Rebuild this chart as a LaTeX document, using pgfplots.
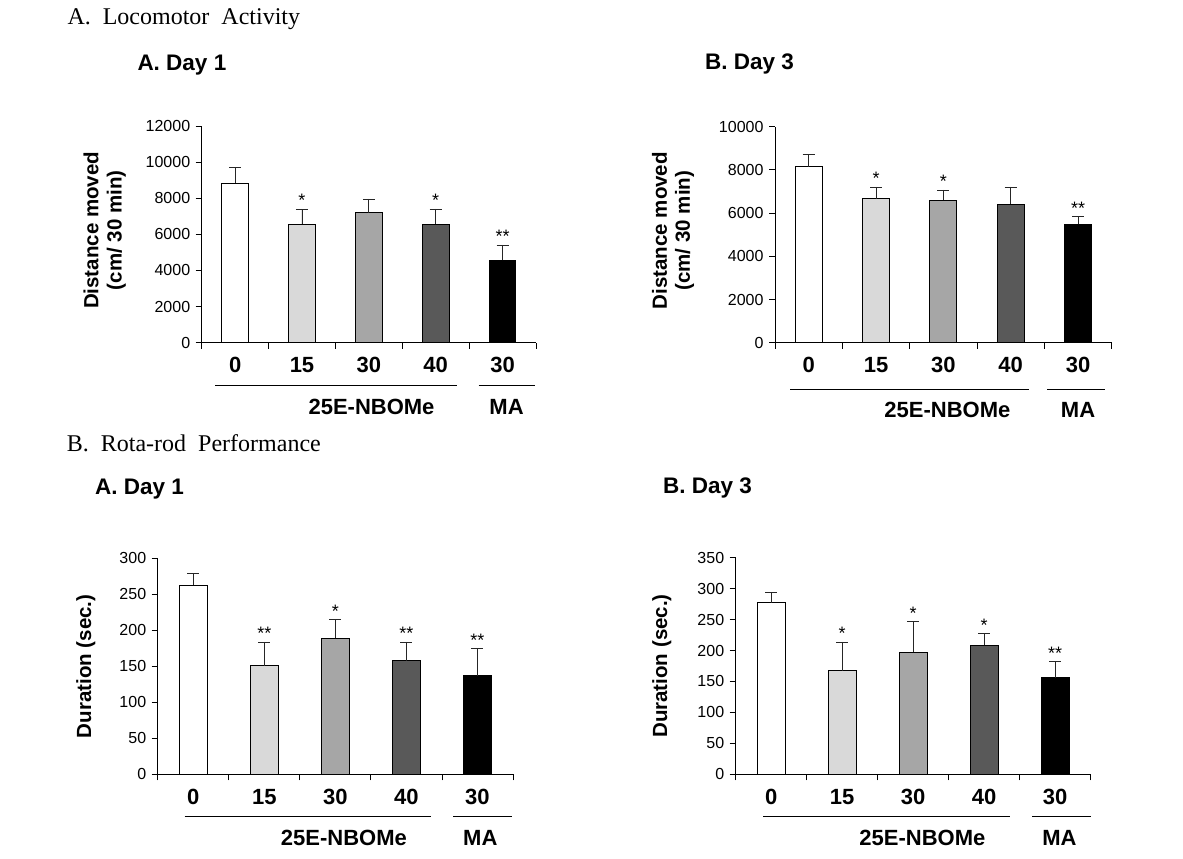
\documentclass[border=0pt]{standalone}
\usepackage{fontspec}
\setmainfont{Liberation Sans}
\newfontfamily\headserif{Liberation Serif}
\usepackage{pgfplots}
\pgfplotsset{compat=1.18}

\definecolor{gA}{HTML}{D9D9D9}
\definecolor{gB}{HTML}{A6A6A6}
\definecolor{gC}{HTML}{595959}

\newcommand{\fs}[1]{\fontsize{#1}{#1}\selectfont}

\pgfplotsset{
  panel/.style={
    scale only axis,
    xmin=-0.5, xmax=4.5, ymin=0,
    axis x line*=bottom, axis y line*=left,
    axis line style={-, line width=1pt, black},
    tick align=outside,
    xtick={0,1,2,3,4},
    xticklabels={0,15,30,40,30},
    minor xtick={-0.5,0.5,1.5,2.5,3.5,4.5},
    minor tick length=6pt,
    major tick length=6pt,
    tick style={line width=0.8pt, black},
    major x tick style={draw=none},
    ytick pos=left,
    xticklabel style={font=\fs{22}\bfseries, anchor=base, yshift=-24pt},
    yticklabel style={font=\fs{16}, /pgf/number format/1000 sep={}, xshift=-2pt},
    /pgf/number format/assume math mode=true,
    scaled y ticks=false,
    ylabel style={font=\bfseries, align=center, anchor=center},
    clip=false,
    ybar, bar width=0.4,
  },
  b/.style={fill=#1, draw=black, line width=1pt, bar shift=0pt,
    error bars/.cd, y dir=plus, y explicit,
    error bar style={line width=0.8pt, black!85},
    error mark options={rotate=90, mark size=6pt, line width=0.8pt, black!85}},
}
\tikzset{
  star/.style={anchor=base, font=\fs{18}, yshift=2pt},
  grp/.style={font=\fs{22}\bfseries},
}

\begin{document}
\begin{tikzpicture}
\path[use as bounding box] (0,0) rectangle (1183pt,859pt);

\node[anchor=base west, inner sep=0, font=\headserif\fs{24}] at (67.3pt,834pt) {A.\ \ Locomotor\ \ Activity};
\node[anchor=base west, inner sep=0, font=\headserif\fs{24}] at (66.7pt,407.3pt) {B.\ \ Rota-rod\ \ Performance};

\node[anchor=base west, inner sep=0, font=\fs{22.5}\bfseries] at (137.3pt,788.3pt) {A. Day 1};
\node[anchor=base west, inner sep=0, font=\fs{22.5}\bfseries] at (705pt,789pt) {B. Day 3};
\node[anchor=base west, inner sep=0, font=\fs{22.5}\bfseries] at (95pt,364pt) {A. Day 1};
\node[anchor=base west, inner sep=0, font=\fs{22.5}\bfseries] at (663pt,365pt) {B. Day 3};

% Panel 1: Locomotor Day 1
\begin{axis}[panel, at={(201.7pt,516.3pt)}, width=334.3pt, height=216.7pt,
  ymax=12000, ytick distance=2000,
  ylabel={\fs{20.5}\bfseries Distance moved\\[7pt]\fs{20.5}\bfseries (cm/ 30 min)},
  ylabel style={at={([xshift=-97pt,yshift=4pt]axis description cs:0,0.5)}}]
\addplot[b=white] coordinates {(0,8830) +- (0,870)};
\addplot[b=gA] coordinates {(1,6560) +- (0,845)};
\addplot[b=gB] coordinates {(2,7200) +- (0,760)};
\addplot[b=gC] coordinates {(3,6560) +- (0,845)};
\addplot[b=black] coordinates {(4,4560) +- (0,850)};
\node[star] at (axis cs:1,7405) {*};
\node[star] at (axis cs:3,7405) {*};
\node[star] at (axis cs:4,5410) {**};
\draw[line width=1pt] ([yshift=-43pt]axis cs:-0.297,0) -- ([yshift=-43pt]axis cs:3.32,0);
\draw[line width=1pt] ([yshift=-43pt]axis cs:3.64,0) -- ([yshift=-43pt]axis cs:4.48,0);
\node[grp] at ([yshift=-64pt]axis cs:2.04,0) {25E-NBOMe};
\node[grp] at ([yshift=-64pt]axis cs:4.06,0) {MA};
\end{axis}

% Panel 2: Locomotor Day 3
\begin{axis}[panel, at={(775pt,516.3pt)}, width=336.7pt, height=216pt,
  ymax=10000, ytick distance=2000,
  ylabel={\fs{20.5}\bfseries Distance moved\\[7pt]\fs{20.5}\bfseries (cm/ 30 min)},
  ylabel style={at={([xshift=-102pt,yshift=4pt]axis description cs:0,0.5)}}]
\addplot[b=white] coordinates {(0,8150) +- (0,585)};
\addplot[b=gA] coordinates {(1,6670) +- (0,540)};
\addplot[b=gB] coordinates {(2,6590) +- (0,480)};
\addplot[b=gC] coordinates {(3,6420) +- (0,790)};
\addplot[b=black] coordinates {(4,5480) +- (0,385)};
\node[star] at (axis cs:1,7210) {*};
\node[star] at (axis cs:2,7070) {*};
\node[star] at (axis cs:4,5865) {**};
\draw[line width=1pt] ([yshift=-46.7pt]axis cs:-0.27,0) -- ([yshift=-46.7pt]axis cs:3.27,0);
\draw[line width=1pt] ([yshift=-46.7pt]axis cs:3.54,0) -- ([yshift=-46.7pt]axis cs:4.4,0);
\node[grp] at ([yshift=-67.3pt]axis cs:2.06,0) {25E-NBOMe};
\node[grp] at ([yshift=-67.3pt]axis cs:4.0,0) {MA};
\end{axis}

% Panel 3: Rota-rod Day 1
\begin{axis}[panel, at={(157.7pt,84.7pt)}, width=355.3pt, height=216pt,
  ymax=300, ytick distance=50,
  ylabel={\fs{20.5}\bfseries Duration (sec.)},
  ylabel style={at={([xshift=-72pt]axis description cs:0,0.5)}}]
\addplot[b=white] coordinates {(0,262.5) +- (0,16.5)};
\addplot[b=gA] coordinates {(1,150.5) +- (0,33.3)};
\addplot[b=gB] coordinates {(2,189) +- (0,25.8)};
\addplot[b=gC] coordinates {(3,158) +- (0,25.8)};
\addplot[b=black] coordinates {(4,137) +- (0,37.5)};
\node[star] at (axis cs:1,183.8) {**};
\node[star] at (axis cs:2,214.8) {*};
\node[star] at (axis cs:3,183.8) {**};
\node[star] at (axis cs:4,174.5) {**};
\draw[line width=1pt] ([yshift=-42.4pt]axis cs:-0.12,0) -- ([yshift=-42.4pt]axis cs:3.34,0);
\draw[line width=1pt] ([yshift=-42.4pt]axis cs:3.66,0) -- ([yshift=-42.4pt]axis cs:4.49,0);
\node[grp] at ([yshift=-64pt]axis cs:2.12,0) {25E-NBOMe};
\node[grp] at ([yshift=-64pt]axis cs:4.04,0) {MA};
\end{axis}

% Panel 4: Rota-rod Day 3
\begin{axis}[panel, at={(735.7pt,84.7pt)}, width=355pt, height=216.6pt,
  ymax=350, ytick distance=50,
  ylabel={\fs{20.5}\bfseries Duration (sec.)},
  ylabel style={at={([xshift=-74pt]axis description cs:0,0.5)}}]
\addplot[b=white] coordinates {(0,277.3) +- (0,17.2)};
\addplot[b=gA] coordinates {(1,167) +- (0,46.8)};
\addplot[b=gB] coordinates {(2,197) +- (0,50.7)};
\addplot[b=gC] coordinates {(3,208.4) +- (0,18.8)};
\addplot[b=black] coordinates {(4,156.1) +- (0,26.4)};
\node[star] at (axis cs:1,213.8) {*};
\node[star] at (axis cs:2,247.7) {*};
\node[star] at (axis cs:3,227.2) {*};
\node[star] at (axis cs:4,182.5) {**};
\draw[line width=1pt] ([yshift=-42.4pt]axis cs:-0.11,0) -- ([yshift=-42.4pt]axis cs:3.36,0);
\draw[line width=1pt] ([yshift=-42.4pt]axis cs:3.68,0) -- ([yshift=-42.4pt]axis cs:4.5,0);
\node[grp] at ([yshift=-64pt]axis cs:2.13,0) {25E-NBOMe};
\node[grp] at ([yshift=-64pt]axis cs:4.06,0) {MA};
\end{axis}
\end{tikzpicture}
\end{document}
